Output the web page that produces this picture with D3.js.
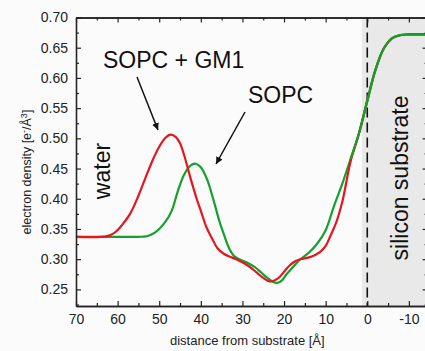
<!DOCTYPE html>
<html>
<head>
<meta charset="utf-8">
<script src="https://cdn.jsdelivr.net/npm/d3@7"></script>
<style>
  body { margin: 0; background: #fbfbfb; }
  svg { display: block; font-family: "Liberation Sans", Arial, sans-serif; }
</style>
</head>
<body>
<div id="chart"></div>
<script>
// distance from substrate (Å) and electron density (e-/Å^3)
var gm1X = [70, 64, 62, 60.5, 59, 57, 55, 53, 51.5, 50, 48.5, 47.2, 46, 45, 44, 42.6, 41, 40, 38.6, 37.2, 36, 34.5, 33, 31.5, 29.8, 28, 26.6, 25, 23.4, 22, 21, 19.8, 18.6, 17.2, 16, 14, 12.5, 11.3, 10, 8.9, 7.5, 6, 4, 2, 0, -2, -4, -6, -8, -10, -14.5];
var gm1Y = [0.337, 0.337, 0.339, 0.345, 0.356, 0.375, 0.405, 0.440, 0.465, 0.486, 0.501, 0.506, 0.502, 0.492, 0.472, 0.437, 0.400, 0.380, 0.352, 0.333, 0.318, 0.309, 0.304, 0.300, 0.294, 0.286, 0.278, 0.269, 0.263, 0.266, 0.271, 0.281, 0.290, 0.297, 0.300, 0.303, 0.307, 0.312, 0.322, 0.338, 0.360, 0.395, 0.462, 0.508, 0.562, 0.614, 0.649, 0.666, 0.671, 0.672, 0.672];

var sopcX = [70, 60, 55, 53, 51.5, 50, 48.5, 47, 45.5, 44, 42.5, 41.2, 40, 38.5, 37, 35.5, 34.6, 33.2, 32, 30.5, 28.5, 27, 25.5, 24, 22.5, 21.5, 20.5, 19.4, 18, 16.2, 14, 12, 10, 8, 6, 4, 2, 0, -2, -4, -6, -8, -10, -14.5];
var sopcY = [0.337, 0.337, 0.337, 0.338, 0.342, 0.350, 0.362, 0.380, 0.413, 0.440, 0.455, 0.458, 0.452, 0.432, 0.399, 0.362, 0.344, 0.318, 0.305, 0.299, 0.293, 0.287, 0.278, 0.269, 0.262, 0.261, 0.265, 0.275, 0.286, 0.299, 0.311, 0.326, 0.348, 0.388, 0.425, 0.466, 0.508, 0.562, 0.614, 0.649, 0.666, 0.671, 0.672, 0.672];

var xMajor = [70, 60, 50, 40, 30, 20, 10, 0, -10];
var xMinor = [65, 55, 45, 35, 25, 15, 5, -5];
var yMajor = [0.25, 0.30, 0.35, 0.40, 0.45, 0.50, 0.55, 0.60, 0.65, 0.70];
var yMinor = [0.225, 0.275, 0.325, 0.375, 0.425, 0.475, 0.525, 0.575, 0.625, 0.675];

function drawChart() {
    var w = 425, h = 351;
    var pl = 76, pr = 427.6, pt = 17.5, pb = 306;

    var svg = d3.select("#chart").append("svg")
        .attr("width", w)
        .attr("height", h);

    var x = d3.scaleLinear().domain([70, -14.5]).range([pl, pr]);
    var y = d3.scaleLinear().domain([0.70, 0.2225]).range([pt, pb]);

    // substrate shading and the dashed interface line
    svg.append("rect")
       .attr("x", x(1.3))
       .attr("y", pt)
       .attr("width", pr - x(1.3))
       .attr("height", pb - pt)
       .style("fill", "#e9e9e9");

    svg.append("line")
       .attr("x1", x(0)).attr("x2", x(0))
       .attr("y1", pt).attr("y2", pb)
       .style("stroke", "#111")
       .style("stroke-width", 1.6)
       .style("stroke-dasharray", "10,5");

    // curves
    var line = d3.line()
        .x(function(d) { return x(d[0]); })
        .y(function(d) { return y(d[1]); })
        .curve(d3.curveCatmullRom.alpha(0.5));

    svg.append("path")
       .datum(d3.zip(sopcX, sopcY))
       .attr("d", line)
       .style("fill", "none")
       .style("stroke", "#15a02c")
       .style("stroke-width", 2.2);

    svg.append("path")
       .datum(d3.zip(gm1X, gm1Y))
       .attr("d", line)
       .style("fill", "none")
       .style("stroke", "#e5161c")
       .style("stroke-width", 2.2);

    // green goes on top where the two overlap near the substrate
    svg.append("path")
       .datum(d3.zip(sopcX, sopcY).filter(function(d) { return d[0] <= 5; }))
       .attr("d", line)
       .style("fill", "none")
       .style("stroke", "#15a02c")
       .style("stroke-width", 2.2);

    // axes, ticks inside like the original
    function styleAxis(g) {
        g.select(".domain").style("stroke", "#222").style("stroke-width", 1.3);
        g.selectAll(".tick line").style("stroke", "#222").style("stroke-width", 1.2);
        g.selectAll("text").style("font-size", "14px").style("fill", "#222")
         .style("font-family", "'Liberation Sans', Arial, sans-serif");
    }
    var plain = function(d) { return String(d); };

    svg.append("g")
       .attr("transform", "translate(0," + pb + ")")
       .call(d3.axisBottom(x).tickValues(xMajor).tickSizeInner(-5).tickSizeOuter(0).tickPadding(8)
             .tickFormat(plain))
       .call(styleAxis);
    svg.append("g")
       .attr("transform", "translate(0," + pb + ")")
       .call(d3.axisBottom(x).tickValues(xMinor).tickSizeInner(-3).tickSizeOuter(0).tickFormat(""))
       .call(styleAxis);
    svg.append("g")
       .attr("transform", "translate(0," + pt + ")")
       .call(d3.axisTop(x).tickValues(xMajor).tickSizeInner(-5).tickSizeOuter(0).tickFormat(""))
       .call(styleAxis);
    svg.append("g")
       .attr("transform", "translate(0," + pt + ")")
       .call(d3.axisTop(x).tickValues(xMinor).tickSizeInner(-3).tickSizeOuter(0).tickFormat(""))
       .call(styleAxis);

    svg.append("g")
       .attr("transform", "translate(" + pl + ",0)")
       .call(d3.axisLeft(y).tickValues(yMajor).tickSizeInner(-5).tickSizeOuter(0).tickPadding(8)
             .tickFormat(d3.format(".2f")))
       .call(styleAxis);
    svg.append("g")
       .attr("transform", "translate(" + pl + ",0)")
       .call(d3.axisLeft(y).tickValues(yMinor).tickSizeInner(-3).tickSizeOuter(0).tickFormat(""))
       .call(styleAxis);
    svg.append("g")
       .attr("transform", "translate(" + pr + ",0)")
       .call(d3.axisRight(y).tickValues(yMajor).tickSizeInner(-5).tickSizeOuter(0).tickFormat(""))
       .call(styleAxis);
    svg.append("g")
       .attr("transform", "translate(" + pr + ",0)")
       .call(d3.axisRight(y).tickValues(yMinor).tickSizeInner(-3).tickSizeOuter(0).tickFormat(""))
       .call(styleAxis);

    // axis titles
    svg.append("text")
       .attr("x", 170)
       .attr("y", 345)
       .style("font-size", "13px")
       .style("fill", "#222")
       .text("distance from substrate [Å]");

    var yt = svg.append("text")
       .attr("transform", "translate(31,172) rotate(-90)")
       .attr("text-anchor", "middle")
       .style("font-size", "12.5px")
       .style("fill", "#222");
    yt.append("tspan").text("electron density [e");
    yt.append("tspan").attr("dy", -4).style("font-size", "9px").text("-");
    yt.append("tspan").attr("dy", 4).text("/Å");
    yt.append("tspan").attr("dy", -4).style("font-size", "9px").text("3");
    yt.append("tspan").attr("dy", 4).text("]");

    // annotations
    svg.append("defs").append("marker")
       .attr("id", "arrow")
       .attr("viewBox", "0 0 10 10")
       .attr("refX", 10).attr("refY", 5)
       .attr("markerWidth", 7).attr("markerHeight", 7)
       .attr("markerUnits", "userSpaceOnUse")
       .attr("orient", "auto")
       .append("path")
       .attr("d", "M0,0 L10,5 L0,10 z")
       .style("fill", "#111");

    svg.append("line")
       .attr("x1", 137).attr("y1", 77).attr("x2", 158).attr("y2", 130)
       .style("stroke", "#111").style("stroke-width", 1.5)
       .attr("marker-end", "url(#arrow)");
    svg.append("line")
       .attr("x1", 245).attr("y1", 112).attr("x2", 216).attr("y2", 164)
       .style("stroke", "#111").style("stroke-width", 1.5)
       .attr("marker-end", "url(#arrow)");

    svg.append("text")
       .attr("x", 103).attr("y", 68)
       .style("font-size", "23px").style("fill", "#111")
       .text("SOPC + GM1");
    svg.append("text")
       .attr("x", 248).attr("y", 103)
       .style("font-size", "23px").style("fill", "#111")
       .text("SOPC");

    svg.append("text")
       .attr("transform", "translate(110,171) rotate(-90)")
       .attr("text-anchor", "middle")
       .style("font-size", "23px").style("fill", "#111")
       .text("water");
    svg.append("text")
       .attr("transform", "translate(408,178) rotate(-90)")
       .attr("text-anchor", "middle")
       .style("font-size", "23px").style("fill", "#111")
       .text("silicon substrate");
}

drawChart();
</script>
</body>
</html>
